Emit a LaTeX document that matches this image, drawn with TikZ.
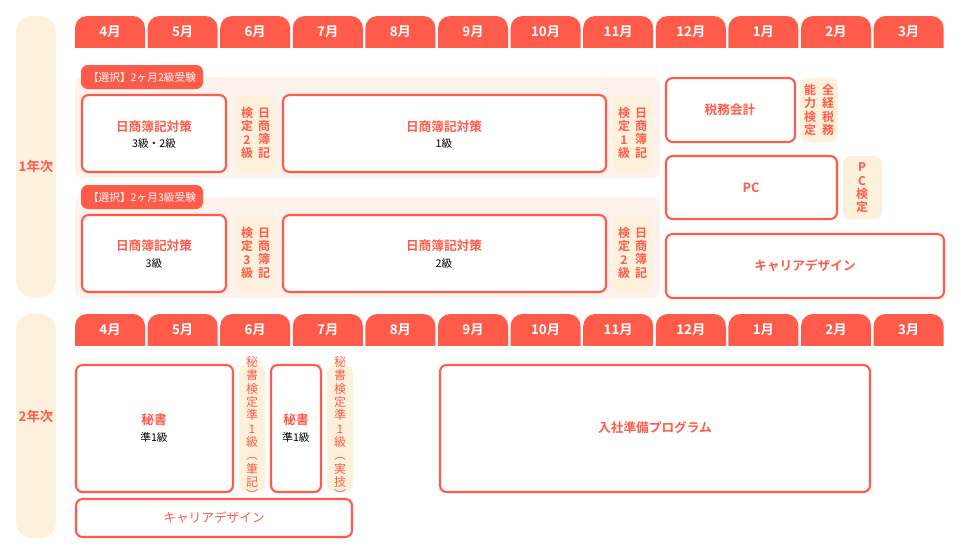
\documentclass[tikz,border=0pt]{standalone}
\usepackage{fontspec}
\setmainfont{Noto Sans CJK JP}
\newfontfamily\jpb{Noto Sans CJK JP Bold}
\definecolor{red1}{HTML}{FF5B4A}
\definecolor{cream}{HTML}{FEF1DC}
\definecolor{pinkbg}{HTML}{FEF2EC}
\begin{document}
\begin{tikzpicture}[x=0.75pt,y=-0.75pt,
 tab/.style={fill=red1,rounded corners=9pt},
 box/.style={draw=red1,line width=1.6pt,fill=white,rounded corners=5pt},
 vcream/.style={fill=cream,rounded corners=6pt},
 pill/.style={fill=red1,rounded corners=5pt},
 ttl/.style={text=red1,font=\jpb\fontsize{9.5}{11}\selectfont},
 sub/.style={font=\fontsize{8}{10}\selectfont},
 vt/.style={text=red1,font=\jpb\fontsize{9}{10}\selectfont,align=center,inner sep=0pt},
 vt2/.style={text=red1,font=\fontsize{9}{10}\selectfont,align=center,inner sep=0pt}]
\useasboundingbox (0,0) rectangle (961,554);
% year columns
\fill[cream,rounded corners=12pt] (16,16) rectangle (56,297);
\node[text=red1,font=\jpb\fontsize{10}{12}\selectfont] (y1) at (36,166) {1年次};
\fill[cream,rounded corners=12pt] (16,314) rectangle (56,538);
\node[text=red1,font=\jpb\fontsize{10}{12}\selectfont] (y2) at (36,416) {2年次};
% month tabs
\foreach \m [count=\i from 0] in {4,5,6,7,8,9,10,11,12,1,2,3}{
  \pgfmathsetmacro\xa{75+72.6*\i}
  \pgfmathsetmacro\xb{\xa+70}
  \begin{scope}
  \clip (\xa,16) rectangle (\xb,47);
  \fill[tab] (\xa,16) rectangle (\xb,60);
  \end{scope}
  \node[text=white,font=\jpb\fontsize{10}{12}\selectfont] (ma\i) at ({\xa+35},32) {\m 月};
  \begin{scope}
  \clip (\xa,314) rectangle (\xb,345);
  \fill[tab] (\xa,314) rectangle (\xb,360);
  \end{scope}
  \node[text=white,font=\jpb\fontsize{10}{12}\selectfont] (mb\i) at ({\xa+35},330) {\m 月};
}
% pink panels
\fill[pinkbg,rounded corners=6pt] (75,77) rectangle (660,178);
\fill[pinkbg,rounded corners=6pt] (75,197) rectangle (660,298);
\fill[pill] (81,65) rectangle (203,89);
\node[text=white,font=\fontsize{8}{10}\selectfont] (p1) at (142,77) {【選択】2ヶ月2級受験};
\fill[pill] (81,185) rectangle (203,209);
\node[text=white,font=\fontsize{8}{10}\selectfont] (p2) at (142,197) {【選択】2ヶ月3級受験};
% row 1
\draw[box] (82,95) rectangle (226,172);
\node[ttl] (a1) at (154,127) {日商簿記対策};
\node[sub] (a1s) at (154,143) {3級・2級};
\fill[vcream] (236,95) rectangle (275,172);
\node[vt] (v1) at (247,133) {検\\定\\2\\級};
\node[vt] (v1b) at (264,133) {日\\商\\簿\\記};
\draw[box] (283,95) rectangle (606,172);
\node[ttl] (a2) at (444,127) {日商簿記対策};
\node[sub] (a2s) at (444,143) {1級};
\fill[vcream] (613,95) rectangle (652,172);
\node[vt] (v2) at (624,133) {検\\定\\1\\級};
\node[vt] (v2b) at (641,133) {日\\商\\簿\\記};
% row 2
\draw[box] (82,215) rectangle (226,292);
\node[ttl] (b1) at (154,246) {日商簿記対策};
\node[sub] (b1s) at (154,263) {3級};
\fill[vcream] (236,215) rectangle (275,292);
\node[vt] (w1) at (247,253) {検\\定\\3\\級};
\node[vt] (w1b) at (264,253) {日\\商\\簿\\記};
\draw[box] (283,215) rectangle (606,292);
\node[ttl] (b2) at (444,246) {日商簿記対策};
\node[sub] (b2s) at (444,263) {2級};
\fill[vcream] (613,215) rectangle (652,292);
\node[vt] (w2) at (624,253) {検\\定\\2\\級};
\node[vt] (w2b) at (641,253) {日\\商\\簿\\記};
% right
\draw[box] (666,78) rectangle (795,142);
\node[ttl] (c1) at (730,110) {税務会計};
\fill[vcream] (800,78) rectangle (838,142);
\node[vt] (c2) at (810,110) {能\\力\\検\\定};
\node[vt] (c2b) at (828,110) {全\\経\\税\\務};
\draw[box] (666,156) rectangle (837,219);
\node[ttl] (c3) at (751,188) {PC};
\fill[vcream] (843,156) rectangle (882,219);
\node[vt] (c4) at (862,188) {P\\C\\検\\定};
\draw[box] (666,234) rectangle (944,298);
\node[ttl] (c5) at (805,266) {キャリアデザイン};
% year 2
\draw[box] (76,365) rectangle (233,492);
\node[ttl] (d1) at (154,420) {秘書};
\node[sub] (d1s) at (154,437) {準1級};
\fill[vcream] (239,365) rectangle (265,492);
\node[vt2] (d2) at (252,428) {秘\\書\\検\\定\\準\\1\\級\\︵\\筆\\記\\︶};
\draw[box] (271,365) rectangle (321,492);
\node[ttl] (d3) at (296,420) {秘書};
\node[sub] (d3s) at (296,437) {準1級};
\fill[vcream] (327,365) rectangle (353,492);
\node[vt2] (d4) at (340,428) {秘\\書\\検\\定\\準\\1\\級\\︵\\実\\技\\︶};
\draw[box] (440,365) rectangle (870,492);
\node[ttl] (d5) at (655,428) {入社準備プログラム};
\draw[box] (76,499) rectangle (352,537);
\node[ttl,font=\fontsize{9.5}{11}\selectfont] (d6) at (214,518) {キャリアデザイン};
\end{tikzpicture}
\end{document}
